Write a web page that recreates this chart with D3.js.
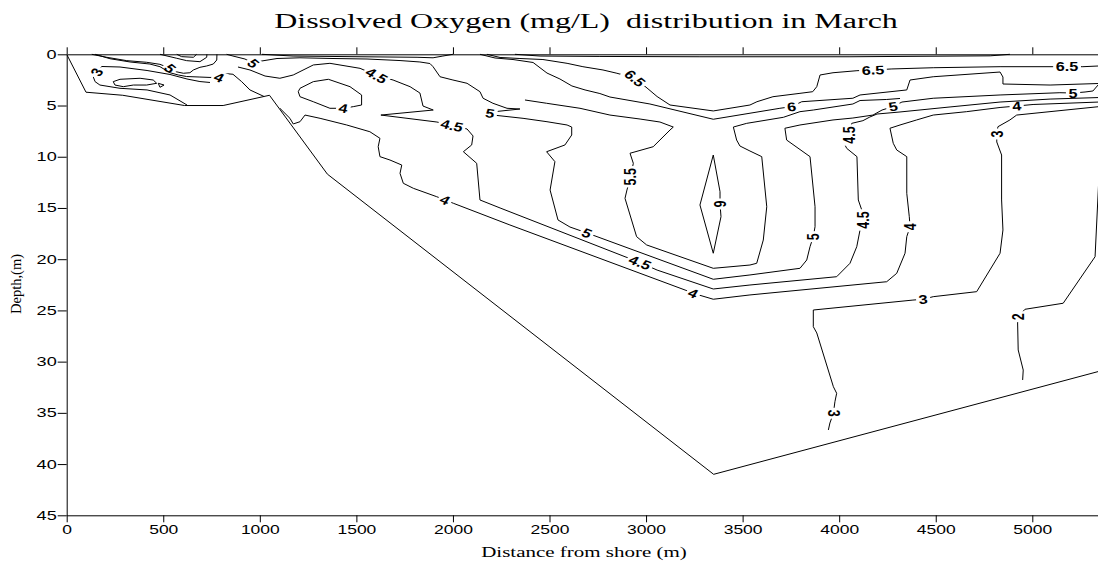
<!DOCTYPE html>
<html>
<head>
<meta charset="utf-8">
<script src="https://d3js.org/d3.v7.min.js"></script>
<style>
body{margin:0;background:#fff;}
</style>
</head>
<body>
<script>
// chart text and ticks
var title = "Dissolved Oxygen (mg/L)  distribution in March";
var xTitle = "Distance from shore (m)";
var yTitle = "Depth,(m)";
var xTicks = [0,500,1000,1500,2000,2500,3000,3500,4000,4500,5000];
var yTicks = [0,5,10,15,20,25,30,35,40,45];

// bottom profile [distance m, depth m]
var bottomProfile = [[0,0],[100,3.7],[290,4.0],[610,5.0],[810,5.0],[1050,4.0],[1350,11.7],[3350,41.0],[5345,30.95]];

// contour lines [distance m, depth m]
var c3a = [[623,4.95],[535,3.97],[416,3.48],[276,3.32],[172,3.0],[147,2.67],[138,2.22],[155,1.73],[181,1.19],[276,1.24],[416,1.58],[535,1.97],[623,2.41],[690,2.66],[742,2.75]];
var c4a = [[147,0],[224,0.43],[328,0.75],[431,0.95],[483,1.21],[535,1.80],[578,2.02],[621,2.17],[690,2.22],[742,2.26],[789,2.26],[814,1.87],[861,1.95],[906,2.67],[949,3.48],[1022,4.12]];
var c5a = [[130,0],[207,0.29],[311,0.62],[414,0.78],[483,0.98],[535,1.37],[566,1.70],[604,1.85],[638,1.80],[656,1.53],[690,1.27],[725,1.14],[759,0.95],[777,0.56],[778,0]];
var dome1 = [[483,0],[570,0.39],[621,0.62],[690,0.72],[725,0.29],[726,0]];
var dome2 = [[570,0],[595,0.23],[656,0.29],[673,0]];
var loop1 = [[241,2.67],[276,2.44],[380,2.34],[448,2.51],[466,2.83],[414,3.0],[345,3.0],[293,3.16],[250,3.0],[241,2.67]];
var tri1 = [[474,2.83],[504,3.0],[483,3.22],[474,2.83]];
var c5 = [[828,0],[861,0.17],[923,0.46],[966,0.88],[1011,0.65],[1089,0.41],[1208,0.34],[1379,0.41],[1555,0.46],[1726,0.61],[1829,0.75],[1881,0.90],[1897,1.21],[1933,2.19],[2000,2.51],[2073,2.83],[2140,3.65],[2156,4.29],[2207,4.78],[2280,5.27],[2347,5.34],[2202,5.63],[2228,5.97],[2363,6.25],[2487,6.58],[2591,6.90],[2615,7.10],[2615,7.88],[2580,8.85],[2485,9.51],[2528,10.48],[2503,13.25],[2544,16.17],[2606,16.86],[2694,17.44],[3348,21.96],[3538,21.54],[3797,20.89],[3832,20.08],[3849,18.78],[3866,17.80],[3875,16.83],[3875,14.88],[3849,9.99],[3728,8.37],[3719,7.22],[3797,6.90],[3968,6.41],[4071,6.22],[4175,5.93],[4222,5.44],[4279,5.10],[4325,4.66],[4487,4.29],[4833,3.97],[5143,3.75],[5211,3.78],[5273,3.68],[5314,3.58],[5345,2.9]];
var c45 = [[887,1.24],[949,1.53],[1027,2.12],[1104,2.34],[1173,2.02],[1277,1.04],[1363,0.88],[1519,1.37],[1605,2.07],[1690,2.51],[1778,3.16],[1829,3.78],[1845,5.05],[1898,5.44],[1627,5.93],[1917,6.61],[1995,6.95],[2073,7.29],[2104,7.97],[2097,8.85],[2054,9.51],[2123,10.64],[2140,14.22],[2244,15.0],[2891,19.76],[2969,20.32],[3057,21.06],[3348,22.91],[3538,22.52],[3987,21.71],[4056,20.40],[4091,18.78],[4108,17.15],[4125,16.17],[4117,15.20],[4099,14.22],[4092,9.99],[4039,9.18],[4030,8.85],[4052,7.88],[4065,6.74],[4123,6.48],[4159,6.12],[4196,5.83],[4315,5.63],[4574,5.14],[4833,4.66],[5092,4.37],[5345,4.22]];
var c4b = [[1104,5.27],[1156,6.25],[1173,6.80],[1208,6.58],[1234,5.93],[1312,6.25],[1450,6.90],[1570,7.56],[1622,8.20],[1613,9.02],[1622,9.99],[1674,10.32],[1735,10.81],[1726,11.62],[1743,12.59],[1795,13.08],[1916,13.90],[1959,14.22],[2002,14.54],[2295,16.66],[3202,23.01],[3244,23.33],[3348,23.91],[3538,23.49],[4246,22.20],[4298,21.38],[4341,19.42],[4350,17.80],[4367,16.83],[4363,15.85],[4350,13.57],[4350,9.99],[4298,9.34],[4280,8.69],[4263,7.22],[4315,6.90],[4401,6.41],[4487,5.93],[4660,5.60],[4833,5.19],[4919,5.05],[5004,4.90],[5345,4.66]];
var c4loop = [[1208,3.32],[1277,2.67],[1355,2.44],[1467,3.16],[1527,3.97],[1527,4.95],[1484,5.11],[1432,5.27],[1363,5.27],[1277,4.63],[1208,4.14],[1199,3.65],[1208,3.32]];
var c55 = [[2373,4.46],[2485,4.78],[2658,5.27],[2813,5.93],[2969,6.32],[3072,6.61],[3141,7.10],[3124,7.39],[3037,9.02],[2917,9.66],[2934,10.64],[2920,11.95],[2901,13.25],[2891,14.06],[2951,17.80],[3003,18.61],[3348,20.89],[3538,20.57],[3573,20.40],[3607,18.13],[3625,14.88],[3599,9.99],[3538,9.44],[3486,8.95],[3469,8.37],[3452,7.10],[3521,6.74],[3711,6.15],[3797,5.60],[3866,5.44],[4071,4.85],[4108,4.51],[4246,4.41],[4315,4.31]];
var c6 = [[2140,0],[2218,0.36],[2311,0.51],[2415,0.80],[2487,1.83],[2554,2.41],[2616,3.09],[2684,3.48],[2761,3.83],[2813,4.17],[3020,4.85],[3348,6.34],[3693,5.27],[3754,5.11],[3806,4.63],[4071,4.29],[4108,3.97],[4350,3.48],[4367,2.51],[4487,2.19],[4833,1.73],[4848,2.22],[4848,2.90],[5092,3.0],[5345,2.85]];
var c6loop = [[3348,9.83],[3383,13.41],[3383,14.61],[3388,15.85],[3348,19.42],[3279,14.71],[3348,9.83]];
var c65a = [[1011,0],[1172,0.17],[1467,0.23],[1814,0.29],[1897,0.34],[1948,0.17],[2000,0]];
var c65 = [[2176,0],[2244,0.31],[2347,0.41],[2466,0.51],[2591,0.88],[2673,1.21],[2777,1.53],[2849,1.85],[2943,2.34],[3005,3.29],[3057,4.12],[3124,4.95],[3348,5.53],[3538,4.95],[3574,4.63],[3657,4.14],[3797,3.81],[3863,3.65],[3884,3.16],[3901,2.02],[3968,1.80],[4092,1.60],[4175,1.53],[4273,1.43],[4487,1.31],[4833,1.21],[5107,1.21],[5180,1.21],[5262,1.21],[5345,1.14]];
var c7 = [[2321,0],[2451,0.17],[2761,0.21],[3279,0.24],[4056,0.24],[4782,0.15],[4884,0]];
var c3b = [[5345,5.11],[4919,5.93],[4884,6.41],[4822,7.07],[4816,7.78],[4816,8.56],[4841,9.83],[4841,14.22],[4848,17.15],[4833,19.42],[4712,23.17],[4487,23.66],[4435,23.91],[4382,23.99],[3866,24.96],[3866,26.59],[3884,27.20],[3970,32.45],[3987,33.09],[3978,33.91],[3970,35.04],[3952,35.99],[3944,36.67]];
var c2 = [[5345,11.95],[5325,19.76],[5160,24.30],[4962,24.89],[4927,25.61],[4924,26.23],[4927,28.86],[4953,30.82],[4950,31.79]];

// contour labels: [line, distance, depth, text, angle]
var labels = [
  ["c3a",155,1.73,"3",-55],
  ["c4a",789,2.26,"4",20],
  ["c5a",535,1.37,"5",40],
  ["c5",966,0.88,"5",40],
  ["c45",1605,2.07,"4.5",28],
  ["c4loop",1432,5.27,"4",8],
  ["c45",1995,6.95,"4.5",12],
  ["c5",2192,5.76,"5",8],
  ["c4b",1959,14.22,"4",22],
  ["c5",2694,17.44,"5",21],
  ["c45",2969,20.32,"4.5",21],
  ["c4b",3244,23.33,"4",21],
  ["c55",2920,11.95,"5.5",-90],
  ["c6loop",3383,14.61,"6",90],
  ["c65",2943,2.34,"6.5",40],
  ["c6",3754,5.11,"6",-5],
  ["c65",4175,1.53,"6.5",-2],
  ["c65",5180,1.21,"6.5",0],
  ["c5",4279,5.10,"5",-8],
  ["c5",5211,3.78,"5",0],
  ["c4b",4919,5.05,"4",-4],
  ["c3b",4816,7.78,"3",-90],
  ["c3b",4435,23.91,"3",-3],
  ["c3b",3970,35.04,"3",90],
  ["c2",4927,25.61,"2",-90],
  ["c5",3866,17.80,"5",-90],
  ["c45",4125,16.17,"4.5",-90],
  ["c4b",4367,16.83,"4",-90],
  ["c45",4052,7.88,"4.5",-90]
];

var lines = {c3a:c3a,c4a:c4a,c5a:c5a,dome1:dome1,dome2:dome2,loop1:loop1,tri1:tri1,c5:c5,c45:c45,c4b:c4b,
  c4loop:c4loop,c55:c55,c6:c6,c6loop:c6loop,c65a:c65a,c65:c65,c7:c7,c3b:c3b,c2:c2};

var width = 1098;
var height = 562;
var sansFont = "Arial, 'Liberation Sans', sans-serif";
var serifFont = "'Times New Roman', 'Liberation Serif', serif";
var labelSize = 12.5;
var labelStretch = 1.3;

var svg = d3.select("body").append("svg")
  .attr("width",width)
  .attr("height",height);

var x = d3.scaleLinear().domain([0,5345]).range([66.7,66.7+5345*0.19312]);
var y = d3.scaleLinear().domain([0,45]).range([54.3,515.3]);

var line = d3.line()
  .x(function(d){return x(d[0]);})
  .y(function(d){return y(d[1]);});

var labelTransform = function(l)
{
  var phi = l[4]*Math.PI/180;
  var th = Math.atan2(labelStretch*Math.sin(phi),Math.cos(phi))*180/Math.PI;
  return "translate("+x(l[1])+","+y(l[2])+") scale("+labelStretch+",1) rotate("+th+")";
}

// measure label widths
var measure = svg.append("text")
  .attr("font-family",sansFont)
  .attr("font-weight","bold")
  .attr("font-size",labelSize);
var labelWidths = labels.map(function(l){
  measure.text(l[3]);
  return measure.node().getComputedTextLength();
});
measure.remove();

// masks to cut a gap in each line where its labels sit
var defs = svg.append("defs");
Object.keys(lines).forEach(function(name){
  var mask = defs.append("mask")
    .attr("id","m-"+name)
    .attr("maskUnits","userSpaceOnUse")
    .attr("x",0).attr("y",0).attr("width",width).attr("height",height);
  mask.append("rect")
    .attr("width",width).attr("height",height)
    .attr("fill","#fff");
  labels.forEach(function(l,i){
    if (l[0]!=name) return;
    mask.append("rect")
      .attr("x",-labelWidths[i]/2-2)
      .attr("y",-6)
      .attr("width",labelWidths[i]+4)
      .attr("height",12)
      .attr("transform",labelTransform(l))
      .attr("fill","#000");
  });
});

// bottom profile
svg.append("path")
  .attr("d",line(bottomProfile))
  .attr("fill","none")
  .attr("stroke","#000")
  .attr("stroke-width",1);

// contour lines
Object.keys(lines).forEach(function(name){
  svg.append("path")
    .attr("d",line(lines[name]))
    .attr("fill","none")
    .attr("stroke","#000")
    .attr("stroke-width",1)
    .attr("stroke-linejoin","round")
    .attr("mask","url(#m-"+name+")");
});

// contour labels
svg.append("g").selectAll("text")
  .data(labels)
  .enter().append("text")
  .attr("transform",labelTransform)
  .attr("text-anchor","middle")
  .attr("dy","0.36em")
  .attr("font-family",sansFont)
  .attr("font-weight","bold")
  .attr("font-size",labelSize)
  .attr("fill","#000")
  .text(function(d){return d[3];});

// axes
var bottomAxis = svg.append("g")
  .attr("transform","translate(0,"+y(45)+")")
  .call(d3.axisBottom(x).tickValues(xTicks).tickSize(7).tickSizeOuter(0).tickFormat(d3.format("d")));
bottomAxis.attr("font-family",sansFont).attr("font-size",12.5);
bottomAxis.selectAll("text")
  .attr("y",null).attr("dy",null)
  .attr("transform","translate(0,19) scale(1.4,1)")
  .attr("fill","#000");

var topAxis = svg.append("g")
  .attr("transform","translate(0,"+y(0)+")")
  .call(d3.axisTop(x).tickValues(xTicks).tickSize(7).tickSizeOuter(0).tickFormat(""));

var leftAxis = svg.append("g")
  .attr("transform","translate("+x(0)+",0)")
  .call(d3.axisLeft(y).tickValues(yTicks).tickSize(9).tickSizeOuter(0).tickFormat(d3.format("d")));
leftAxis.attr("font-family",sansFont).attr("font-size",12.5);
leftAxis.selectAll("text")
  .attr("x",null)
  .attr("transform","translate(-10,0) scale(1.45,1)")
  .attr("fill","#000");

svg.selectAll(".domain, .tick line").attr("stroke","#000").attr("stroke-width",1);

// titles
svg.append("text")
  .attr("transform","translate(586,28) scale(1.6,1)")
  .attr("text-anchor","middle")
  .attr("font-family",serifFont)
  .attr("font-size",20)
  .style("white-space","pre")
  .text(title);

svg.append("text")
  .attr("transform","translate(584,557) scale(1.4,1)")
  .attr("text-anchor","middle")
  .attr("font-family",serifFont)
  .attr("font-size",15)
  .text(xTitle);

svg.append("text")
  .attr("transform","translate(21,284) rotate(-90)")
  .attr("text-anchor","middle")
  .attr("font-family",serifFont)
  .attr("font-size",14.5)
  .text(yTitle);
</script>
</body>
</html>
